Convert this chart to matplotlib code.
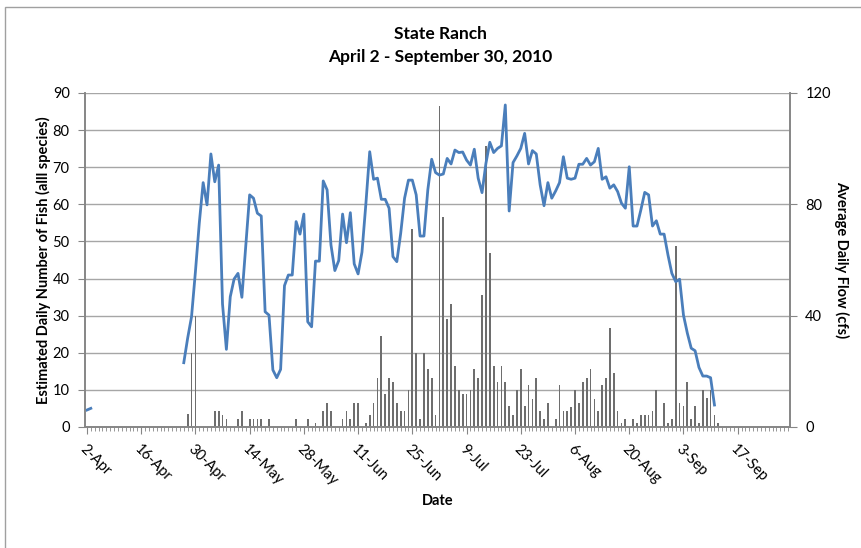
import numpy as np
import matplotlib
matplotlib.use('Agg')
import matplotlib.pyplot as plt
from matplotlib.patches import Rectangle

plt.rcParams['font.family'] = ['Lato', 'DejaVu Sans']

# day index 0 = 2-Apr-2010 ... 181 = 30-Sep-2010
N_DAYS = 182
TICK_DAYS = [0, 14, 28, 42, 56, 70, 84, 98, 112, 126, 140, 154, 168]
TICK_LABELS = ["2-Apr", "16-Apr", "30-Apr", "14-May", "28-May", "11-Jun", "25-Jun",
               "9-Jul", "23-Jul", "6-Aug", "20-Aug", "3-Sep", "17-Sep"]

# average daily flow (cfs), right axis
flow_start_days = [0, 1]
flow_start = [6.1, 6.7]
flow_main_first_day = 25
flow_main = [
    23.1, 31.9, 39.6, 55.7, 73.2, 87.8, 79.8, 98.1, 88.1, 94.1,
    44.2, 27.9, 46.8, 53.2, 55.2, 46.6, 64.8, 83.4, 82.2, 76.8,
    75.8, 41.4, 40.2, 20.5, 17.7, 20.7, 50.8, 54.6, 54.6, 73.8,
    69.3, 76.5, 37.8, 36.0, 59.6, 59.6, 88.4, 85.2, 65.4, 56.2,
    59.8, 76.5, 66.2, 77.0, 58.6, 55.0, 62.8, 80.0, 98.9, 89.0,
    89.4, 81.8, 81.8, 78.6, 61.2, 59.4, 69.6, 82.2, 88.7, 88.7,
    83.4, 68.6, 68.6, 85.2, 96.2, 91.4, 90.5, 90.9, 96.5, 94.5,
    99.5, 98.6, 98.8, 95.9, 94.1, 99.8, 89.4, 84.2, 94.7, 102.3,
    98.6, 100.1, 101.0, 115.7, 77.6, 95.0, 97.4, 100.1, 105.5, 94.5,
    99.3, 98.1, 87.0, 79.5, 87.8, 82.2, 84.8, 87.8, 97.1, 89.4,
    89.0, 89.4, 94.4, 94.4, 96.5, 94.1, 95.3, 100.1, 89.0, 89.9,
    85.8, 87.0, 84.6, 80.4, 78.6, 93.5, 72.2, 72.2, 78.0, 84.3,
    83.4, 72.2, 74.1, 69.3, 69.3, 61.8, 55.2, 52.2, 53.1, 40.2,
    33.7, 28.3, 27.4, 21.4, 18.3, 18.3, 17.7, 7.9,
]

# estimated daily number of fish, left axis
fish_days = [
    26, 27, 28, 33, 34, 35, 36, 39, 40, 42, 43, 44, 45, 47, 54, 57, 59, 61, 62, 63,
    66, 67, 68, 69, 70, 72, 73, 74, 75, 76, 77, 78, 79, 80, 81, 82, 83, 84, 85, 86,
    87, 88, 89, 90, 91, 92, 93, 94, 95, 96, 97, 98, 99, 100, 101, 102, 103, 104, 105, 106,
    107, 108, 109, 110, 111, 112, 113, 114, 115, 116, 117, 118, 119, 121, 122, 123, 124, 125, 126, 127,
    128, 129, 130, 131, 132, 133, 134, 135, 136, 137, 138, 139, 141, 142, 143, 144, 145, 146, 147, 149,
    150, 151, 152, 153, 154, 155, 156, 157, 158, 159, 160, 161, 162, 163,
]
fish_counts = [
    3.4, 20.0, 30.0, 4.3, 4.3, 3.2, 2.1, 2.1, 4.3, 2.1, 2.1, 2.1, 2.1, 2.1, 2.1, 2.1, 1.0, 4.3, 6.6, 4.3,
    2.1, 4.3, 2.1, 6.6, 6.6, 1.0, 3.2, 6.6, 13.3, 24.4, 8.9, 13.3, 12.2, 6.6, 4.3, 4.3, 10.0, 53.3, 20.0, 2.1,
    20.0, 15.5, 13.2, 3.2, 86.5, 56.7, 29.0, 33.1, 16.5, 10.0, 8.9, 8.9, 10.0, 15.5, 13.2, 35.6, 75.7, 46.8, 16.5, 12.2,
    16.5, 12.2, 5.6, 3.2, 10.0, 15.5, 5.7, 11.2, 7.6, 13.2, 4.3, 2.1, 6.6, 2.1, 11.2, 4.3, 4.3, 5.5, 10.0, 6.6,
    12.2, 13.2, 15.5, 7.6, 4.3, 11.2, 13.2, 26.6, 14.5, 4.3, 1.0, 2.1, 2.1, 1.0, 3.2, 3.2, 3.2, 4.3, 10.0, 6.6,
    1.0, 2.1, 48.8, 6.6, 5.7, 12.2, 2.1, 5.7, 1.0, 10.0, 7.7, 10.0, 3.3, 1.0,
]

flow = np.full(N_DAYS, np.nan)
flow[flow_start_days] = flow_start
flow[flow_main_first_day:flow_main_first_day + len(flow_main)] = flow_main

fig = plt.figure(figsize=(8.62, 5.48), dpi=100)
ax = fig.add_axes([85 / 862, 1 - 427 / 548, 705 / 862, 334 / 548])
ax2 = ax.twinx()

axis_col = '#868686'
ax.set_axisbelow(True)
ax.grid(axis='y', color='#a6a6a6', lw=1.0)
ax.bar(fish_days, fish_counts, width=0.45, color='#6e6e6e', lw=0)
ax2.plot(np.arange(N_DAYS), flow, color='#4a7ebb', lw=2.0)

ax.set_xlim(-0.5, N_DAYS - 0.5)
ax.set_ylim(0, 90)
ax.set_yticks(range(0, 91, 10))
ax2.set_ylim(0, 120)
ax2.set_yticks([0, 40, 80, 120])

ax.set_xticks(TICK_DAYS)
ax.set_xticks(range(N_DAYS), minor=True)
ax.set_xticklabels(TICK_LABELS, rotation=-45, ha='left', va='top',
                   rotation_mode='anchor', fontsize=10.5)
ax.tick_params(axis='x', which='major', length=5, color=axis_col, pad=6)
ax.tick_params(axis='x', which='minor', length=3, color=axis_col)
ax.tick_params(axis='y', length=5, color=axis_col, labelsize=10.5, pad=6)
ax2.tick_params(axis='y', length=5, color=axis_col, labelsize=10.5, pad=6)

for a in (ax, ax2):
    a.spines['top'].set_visible(False)
    for s in ('left', 'right', 'bottom'):
        a.spines[s].set_color(axis_col)
        a.spines[s].set_linewidth(1.2)

ax.set_ylabel("Estimated Daily Number of Fish (alll species)", fontsize=10.5,
              fontweight='bold', labelpad=1)
ax2.set_ylabel("Average Daily Flow (cfs)", fontsize=10.5, fontweight='bold',
               rotation=270, labelpad=13)
ax.set_xlabel("Date", fontsize=10.5, fontweight='bold', labelpad=4)

fig.text(0.511, 1 - 34 / 548, "State Ranch", ha='center', va='center',
         fontsize=12.5, fontweight='bold')
fig.text(0.511, 1 - 57 / 548, "April 2 - September 30, 2010", ha='center',
         va='center', fontsize=12.5, fontweight='bold')

fig.patches.append(Rectangle((5 / 862, -0.05), 1.1, 1 - 7 / 548 + 0.05,
                             transform=fig.transFigure, fill=False,
                             edgecolor='#a0a0a0', lw=1.0))

fig.savefig("out.png", dpi=100)
